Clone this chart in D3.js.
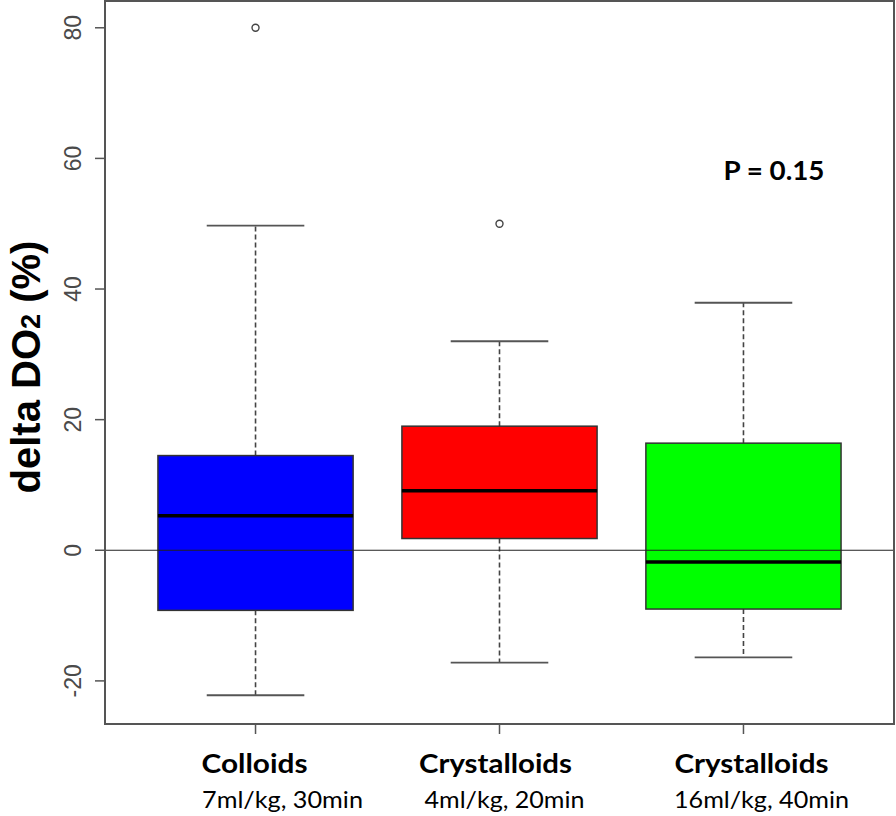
<!DOCTYPE html>
<html>
<head>
<meta charset="utf-8">
<script src="https://cdn.jsdelivr.net/npm/d3@7"></script>
<style>
  html, body { margin: 0; padding: 0; background: #fff; }
  svg { display: block; }
</style>
</head>
<body>
<svg id="chart" width="896" height="816"></svg>
<script>
// ---- data ----
const groupKeys   = ["g1", "g2", "g3"];
const groupNames  = ["Colloids", "Crystalloids", "Crystalloids"];
const groupDoses  = ["7ml/kg, 30min", "4ml/kg, 20min", "16ml/kg, 40min"];
const boxColors   = ["#0000ff", "#ff0000", "#00ff00"];
const whiskerLow  = [-22.2, -17.2, -16.4];
const q1Values    = [-9.2, 1.8, -9.0];
const medians     = [5.3, 9.1, -1.8];
const q3Values    = [14.5, 19.0, 16.4];
const whiskerHigh = [49.7, 32.0, 37.9];
const outliers    = [[80], [50], []];
const yTicks      = [-20, 0, 20, 40, 60, 80];
const yTitle      = "delta DO";
const pText       = "P = 0.15";

// ---- layout ----
const svg = d3.select("#chart");
const L = 105, R = 894, T = 1, B = 724;

const x = d3.scalePoint().domain(groupKeys).range([L, R]).padding(0.617);
const y = d3.scaleLinear().domain([-26.6, 84.1]).range([B, T]);
const boxW = x.step() * 0.8;
const capW = boxW / 2;

const frameColor = "#555";

const g = svg.append("g");
groupKeys.forEach((k, i) => {
  const cx = x(k);
  // whiskers (dashed)
  g.append("line")
    .attr("x1", cx).attr("x2", cx)
    .attr("y1", y(q3Values[i])).attr("y2", y(whiskerHigh[i]))
    .attr("stroke", "#444").attr("stroke-width", 1.6).attr("stroke-dasharray", "5,3");
  g.append("line")
    .attr("x1", cx).attr("x2", cx)
    .attr("y1", y(q1Values[i])).attr("y2", y(whiskerLow[i]))
    .attr("stroke", "#444").attr("stroke-width", 1.6).attr("stroke-dasharray", "5,3");
  // caps
  [whiskerHigh[i], whiskerLow[i]].forEach(v => {
    g.append("line")
      .attr("x1", cx - capW / 2).attr("x2", cx + capW / 2)
      .attr("y1", y(v)).attr("y2", y(v))
      .attr("stroke", "#555").attr("stroke-width", 1.8);
  });
  // box
  g.append("rect")
    .attr("x", cx - boxW / 2).attr("width", boxW)
    .attr("y", y(q3Values[i])).attr("height", y(q1Values[i]) - y(q3Values[i]))
    .attr("fill", boxColors[i]).attr("stroke", "#333").attr("stroke-width", 1.5);
  // median
  g.append("line")
    .attr("x1", cx - boxW / 2).attr("x2", cx + boxW / 2)
    .attr("y1", y(medians[i])).attr("y2", y(medians[i]))
    .attr("stroke", "#000").attr("stroke-width", 3.5);
  // outliers
  outliers[i].forEach(v => {
    g.append("circle")
      .attr("cx", cx).attr("cy", y(v)).attr("r", 3.5)
      .attr("fill", "none").attr("stroke", "#444").attr("stroke-width", 1.4);
  });
});

// zero reference line (drawn over the boxes)
svg.append("line")
  .attr("x1", L).attr("x2", R)
  .attr("y1", y(0)).attr("y2", y(0))
  .attr("stroke", "#222").attr("stroke-width", 1.2);

// frame
svg.append("rect")
  .attr("x", L).attr("y", T).attr("width", R - L).attr("height", B - T)
  .attr("fill", "none").attr("stroke", frameColor).attr("stroke-width", 2);

// y axis ticks and labels
const yAxis = svg.append("g");
yTicks.forEach(t => {
  yAxis.append("line")
    .attr("x1", L - 10).attr("x2", L)
    .attr("y1", y(t)).attr("y2", y(t))
    .attr("stroke", frameColor).attr("stroke-width", 1.5);
  yAxis.append("text")
    .attr("transform", `translate(81,${y(t)}) rotate(-90)`)
    .attr("text-anchor", "middle")
    .attr("font-family", "Liberation Sans, Arial, sans-serif")
    .attr("font-size", 23)
    .attr("fill", "#4a4a4a")
    .text(t);
});

// x axis ticks
groupKeys.forEach(k => {
  svg.append("line")
    .attr("x1", x(k)).attr("x2", x(k))
    .attr("y1", B).attr("y2", B + 10)
    .attr("stroke", frameColor).attr("stroke-width", 1.5);
});

// category labels
const labelFont = "Lato, 'Open Sans', sans-serif";
const nameOffsets = [-1, -4, 8];
const doseOffsets = [27, 5, 18];
const nameWidths = [106, 153, 154];
const doseWidths = [161, 160, 175];
groupKeys.forEach((k, i) => {
  svg.append("text")
    .attr("x", x(k) + nameOffsets[i]).attr("y", 773)
    .attr("text-anchor", "middle")
    .attr("font-family", labelFont).attr("font-weight", "bold")
    .attr("font-size", 26).attr("fill", "#000")
    .attr("textLength", nameWidths[i]).attr("lengthAdjust", "spacingAndGlyphs")
    .text(groupNames[i]);
  svg.append("text")
    .attr("x", x(k) + doseOffsets[i]).attr("y", 808)
    .attr("text-anchor", "middle")
    .attr("font-family", labelFont)
    .attr("font-size", 23).attr("fill", "#000")
    .attr("textLength", doseWidths[i]).attr("lengthAdjust", "spacingAndGlyphs")
    .text(groupDoses[i]);
});

// y axis title
const title = svg.append("text")
  .attr("transform", "translate(40,367) rotate(-90)")
  .attr("text-anchor", "middle")
  .attr("font-family", "Liberation Sans, Arial, sans-serif")
  .attr("font-weight", "bold")
  .attr("font-size", 40)
  .attr("fill", "#000");
title.append("tspan").text(yTitle);
title.append("tspan").attr("font-size", 27).text("2");
title.append("tspan").text(" (%)");

// P value
svg.append("text")
  .attr("x", 774).attr("y", 180)
  .attr("text-anchor", "middle")
  .attr("font-family", labelFont).attr("font-weight", "bold")
  .attr("font-size", 27).attr("fill", "#000")
  .attr("textLength", 101).attr("lengthAdjust", "spacingAndGlyphs")
  .text(pText);
</script>
</body>
</html>
